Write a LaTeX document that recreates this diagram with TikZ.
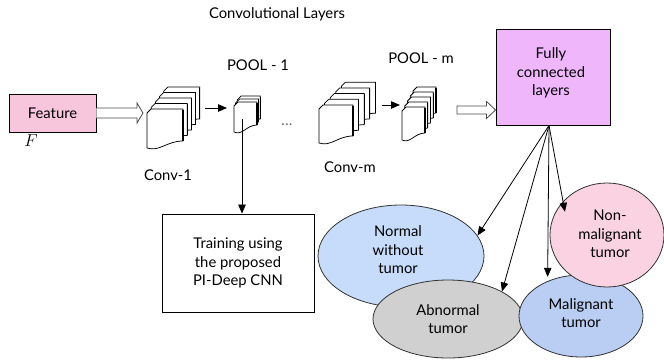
\documentclass[tikz,border=0pt]{standalone}
\usepackage{fontspec}
\setmainfont{Lato}
\usetikzlibrary{arrows.meta,calc,shapes.geometric}

\definecolor{featurepink}{RGB}{247,198,220}
\definecolor{fcviolet}{RGB}{240,182,252}
\definecolor{normalblue}{RGB}{198,220,250}
\definecolor{abngray}{RGB}{208,208,208}
\definecolor{maligblue}{RGB}{185,206,242}
\definecolor{nonmalpink}{RGB}{250,210,226}
\definecolor{edge}{RGB}{50,50,50}

\tikzset{
  txt/.style={font=\fontsize{14.8}{18.5}\selectfont, align=center, inner sep=0pt},
  boxnode/.style={draw=black, line width=0.9pt, txt},
  cls/.style={ellipse, draw=edge, line width=0.8pt, txt},
  arr/.style={-{Triangle[length=9pt,width=7.5pt]}, line width=0.8pt},
  hollow/.style={draw=black!70, line width=0.8pt, fill=white},
  sheet/.style={draw=black, line width=0.75pt, fill=white},
  stackarea/.style={draw=none, inner sep=0pt, outer sep=0pt},
  % stack of feature-map sheets: last index, width, height, dx, dy, chamfer
  pics/sheetstack/.style n args={6}{code={
    \foreach \i in {#1,...,0}{
      \begin{scope}[shift={(\i*#4,-\i*#5)}]
        \filldraw[sheet] (#6,0) -- (#2,0) -- (#2,#3-7)
          .. controls (0.55*#2,#3-7) and (0.35*#2,#3+4) .. (0,#3)
          -- (0,#6) -- cycle;
        \draw[line width=1.3pt] (#2,0.5) -- (#2,#3-7.5);
      \end{scope}
    }
  }}
}

\begin{document}
\begin{tikzpicture}[x=1pt,y=-1pt]
\useasboundingbox (0,0) rectangle (664,362);

% title
\node[txt] (title) at (277,14) {Convolutional Layers};

% input feature
\node[boxnode, fill=featurepink, minimum width=87pt, minimum height=38pt] (feat) at (52.5,113) {Feature};
\node[inner sep=0pt, font=\fontsize{17}{19}\selectfont] (fsym) at (31,141) {$F$};

% convolution and pooling stacks
\pic at (147,109) {sheetstack={4}{36}{39}{4.2}{5.5}{4}};
\node[stackarea, minimum width=53pt, minimum height=63pt] (conv1) at (173.5,118.5) {};
\pic at (234,102) {sheetstack={2}{23}{30}{1.6}{3}{4}};
\node[stackarea, minimum width=26pt, minimum height=39pt] (pool1) at (247,112.5) {};
\pic at (319,105) {sheetstack={4}{34}{38}{5.6}{5.7}{4}};
\node[stackarea, minimum width=58pt, minimum height=63pt] (convm) at (348,113.5) {};
\pic at (402,107) {sheetstack={4}{23}{33}{2.75}{5}{4}};
\node[stackarea, minimum width=34pt, minimum height=55pt] (poolm) at (419,114.5) {};

\node[txt] (lconv1) at (168,175) {Conv-1};
\node[txt] (lpool1) at (258,65) {POOL - 1};
\node[txt, text=black!60] (dots) at (287,125) {\dots};
\node[txt] (lconvm) at (350,167) {Conv-m};
\node[txt] (lpoolm) at (421,58) {POOL - m};

% fully connected block
\node[boxnode, fill=fcviolet, minimum width=114pt, minimum height=96pt] (fc) at (553,77) {};
\node[txt] (fctext) at (551,73) {Fully\\connected\\layers};

% training block
\node[boxnode, minimum width=152pt, minimum height=98pt] (train) at (238,263)
     {Training using\\the proposed\\PI-Deep CNN};

% output classes
\node[cls, fill=normalblue, minimum width=166pt, minimum height=102pt] (normal) at (401,256) {};
\node[txt] (normaltext) at (398,250) {Normal\\without\\tumor};
\node[cls, fill=abngray, minimum width=150pt, minimum height=78pt] (abn) at (448,319)
     {Abnormal\\tumor};
\node[cls, fill=maligblue, minimum width=124pt, minimum height=82pt] (malig) at (581,316) {};
\node[txt] (maligtext) at (581,313) {Malignant\\tumor};
\node[cls, fill=nonmalpink, minimum width=114pt, minimum height=104pt] (nonmal) at (607,235) {};
\node[txt] (nonmaltext) at (610,234) {Non-\\malignant\\tumor};

% hollow arrows
\path (feat.east) coordinate (h1s) (conv1.west |- feat.east) coordinate (h1e);
\filldraw[hollow] ($(h1s)+(0,-5)$) -- ($(h1e)+(-10,-5)$) -- ($(h1e)+(-10,-10)$) -- ($(h1e)+(-4,0)$)
  -- ($(h1e)+(-10,10)$) -- ($(h1e)+(-10,5)$) -- ($(h1s)+(0,5)$);
\path (poolm.east |- 0,110) coordinate (h2s) (fc.west |- 0,110) coordinate (h2e);
\filldraw[hollow] ($(h2s)+(21,-4)$) -- ($(h2e)+(-9,-4)$) -- ($(h2e)+(-9,-8.5)$) -- (h2e)
  -- ($(h2e)+(-9,8.5)$) -- ($(h2e)+(-9,4)$) -- ($(h2s)+(21,4)$) -- cycle;

% connectors between stages
\draw[arr, shorten <=5pt, shorten >=7pt] (conv1.east |- 0,108) -- (pool1.west |- 0,108);
\draw[arr, shorten <=5pt, shorten >=2pt] (convm.east |- 0,105) -- (poolm.west |- 0,105);
\draw[arr, shorten <=-13pt] ([xshift=-5pt]pool1.south) -- ([xshift=-5pt]pool1.south |- train.north);

% classifier outputs
\draw[arr] ([xshift=-4pt]fc.south) -- (normal.15);
\draw[arr] ([xshift=-4pt]fc.south) -- (abn.27);
\draw[arr] ([xshift=-4pt]fc.south) -- ($(malig.130)+(-3,-3)$);
\draw[arr] ([xshift=-4pt]fc.south) -- ($(nonmal.151)+(7,4)$);
\end{tikzpicture}
\end{document}
